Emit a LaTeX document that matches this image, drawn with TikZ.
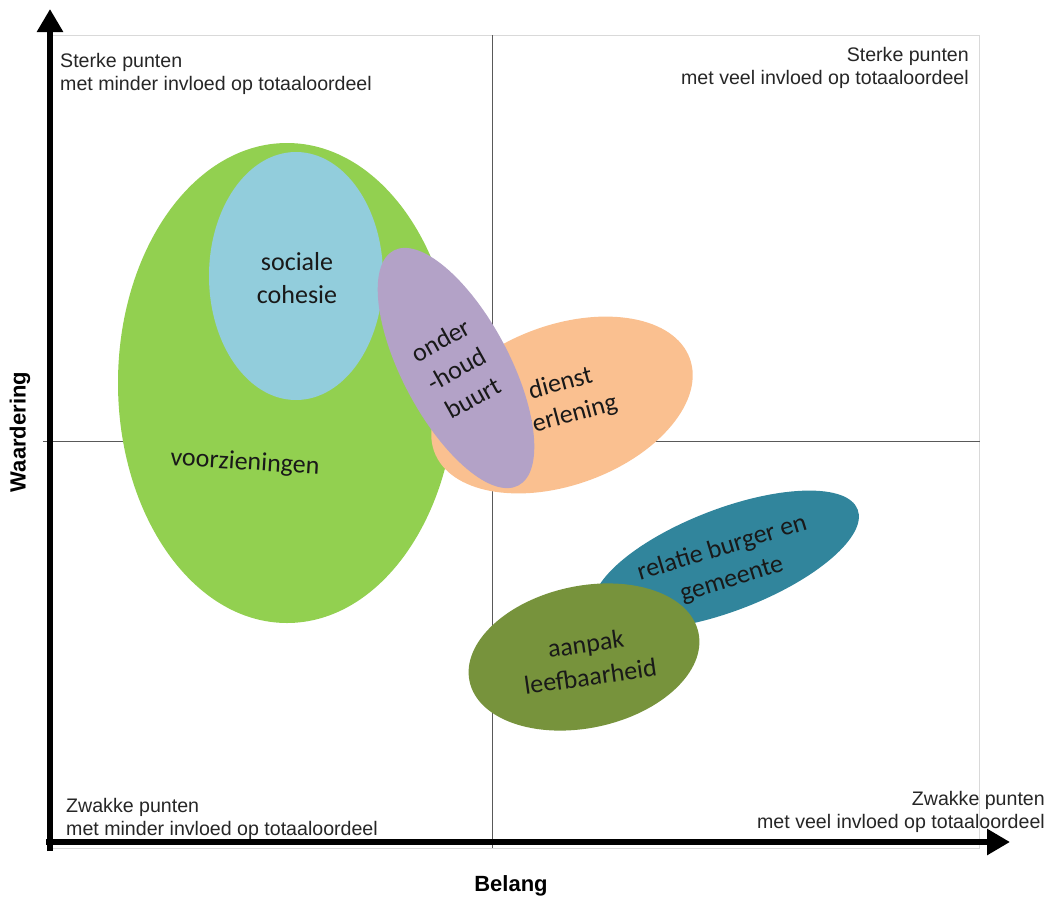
\documentclass[tikz,border=0pt]{standalone}
\usepackage{fontspec}
\setmainfont{Liberation Sans}
\newfontfamily\calibri{Carlito}
\usetikzlibrary{shapes.geometric,arrows.meta}
\definecolor{cgreen}{HTML}{92D050}
\definecolor{cblue}{HTML}{92CDDC}
\definecolor{corange}{HTML}{FAC090}
\definecolor{cpurple}{HTML}{B3A2C7}
\definecolor{cteal}{HTML}{31859C}
\definecolor{colive}{HTML}{77933C}
\definecolor{framegray}{HTML}{D9D9D9}
\definecolor{quadgray}{HTML}{595959}
\begin{document}
\begin{tikzpicture}[x=1pt,y=1pt,
  blob/.style={ellipse, inner sep=0pt, draw=none},
  blobtext/.style={font=\calibri\fontsize{26}{33}\selectfont, align=center, text=black!90, inner sep=0pt},
  corner/.style={font=\fontsize{19.6}{23.5}\selectfont, inner sep=0pt, text=black!85},
  axislabel/.style={font=\bfseries\fontsize{22}{26}\selectfont, inner sep=0pt},
  axisline/.style={line width=6pt, -{Triangle[width=25pt,length=23pt]}},
  quad/.style={draw=quadgray, line width=0.9pt},
]
\useasboundingbox (0,0) rectangle (1051,-897);
% frame and quadrant lines
\draw[framegray, line width=0.9pt] (50,-35) rectangle (979,-848);
\coordinate (vtop) at (492,-35);
\coordinate (vbot) at (492,-848);
\coordinate (hleft) at (43,-441);
\coordinate (hright) at (980,-441);
\draw[quad] (vtop) -- (vbot);
\draw[quad] (hleft) -- (hright);
% ellipses
\node[blob, fill=cgreen, minimum width=338, minimum height=480] (voorz) at (287,-383) {};
\node[blobtext, rotate=-3.5] (voorzT) at (245,-463) {voorzieningen};
\node[blob, fill=cblue, minimum width=174, minimum height=248] (sociaal) at (296,-276) {};
\node[blobtext] (sociaalT) at (297,-278) {sociale\\cohesie};
\node[blob, fill=corange, minimum width=272, minimum height=160, rotate=20] (dienst) at (562,-405) {};
\node[blobtext, rotate=15] (dienstT) at (565,-400) {dienst\\verlening};
\node[blob, fill=cpurple, minimum width=107, minimum height=266, rotate=28] (onder) at (456,-368) {};
\node[blobtext, rotate=29] (onderT) at (457,-369) {onder\\-houd\\buurt};
\node[blob, fill=cteal, minimum width=282, minimum height=102, rotate=21] (relatie) at (726,-560) {};
\node[blobtext, rotate=17] (relatieT) at (727,-564) {relatie burger en\\gemeente};
\node[blob, fill=colive, minimum width=234, minimum height=142, rotate=12] (aanpak) at (584,-657) {};
\node[blobtext, rotate=8] (aanpakT) at (588,-660) {aanpak\\leefbaarheid};
% axes
\coordinate (yfoot) at (50,-851);
\coordinate (ytip) at (50,-9);
\coordinate (xfoot) at (46,-842);
\coordinate (xtip) at (1010,-842);
\draw[axisline] (yfoot) -- (ytip);
\draw[axisline] (xfoot) -- (xtip);
% corner texts
\node[corner, anchor=north west, align=left] (tl) at (60,-53) {Sterke punten\\met minder invloed op totaaloordeel};
\node[corner, anchor=north east, align=right] (tr) at (969,-47) {Sterke punten\\met veel invloed op totaaloordeel};
\node[corner, anchor=north west, align=left] (bl) at (66,-798) {Zwakke punten\\met minder invloed op totaaloordeel};
\node[corner, anchor=north east, align=right] (br) at (1045,-791) {Zwakke punten\\met veel invloed op totaaloordeel};
% axis labels
\node[axislabel] (belang) at (511,-886) {Belang};
\node[axislabel, rotate=90] (waardering) at (20,-432) {Waardering};
\end{tikzpicture}
\end{document}
